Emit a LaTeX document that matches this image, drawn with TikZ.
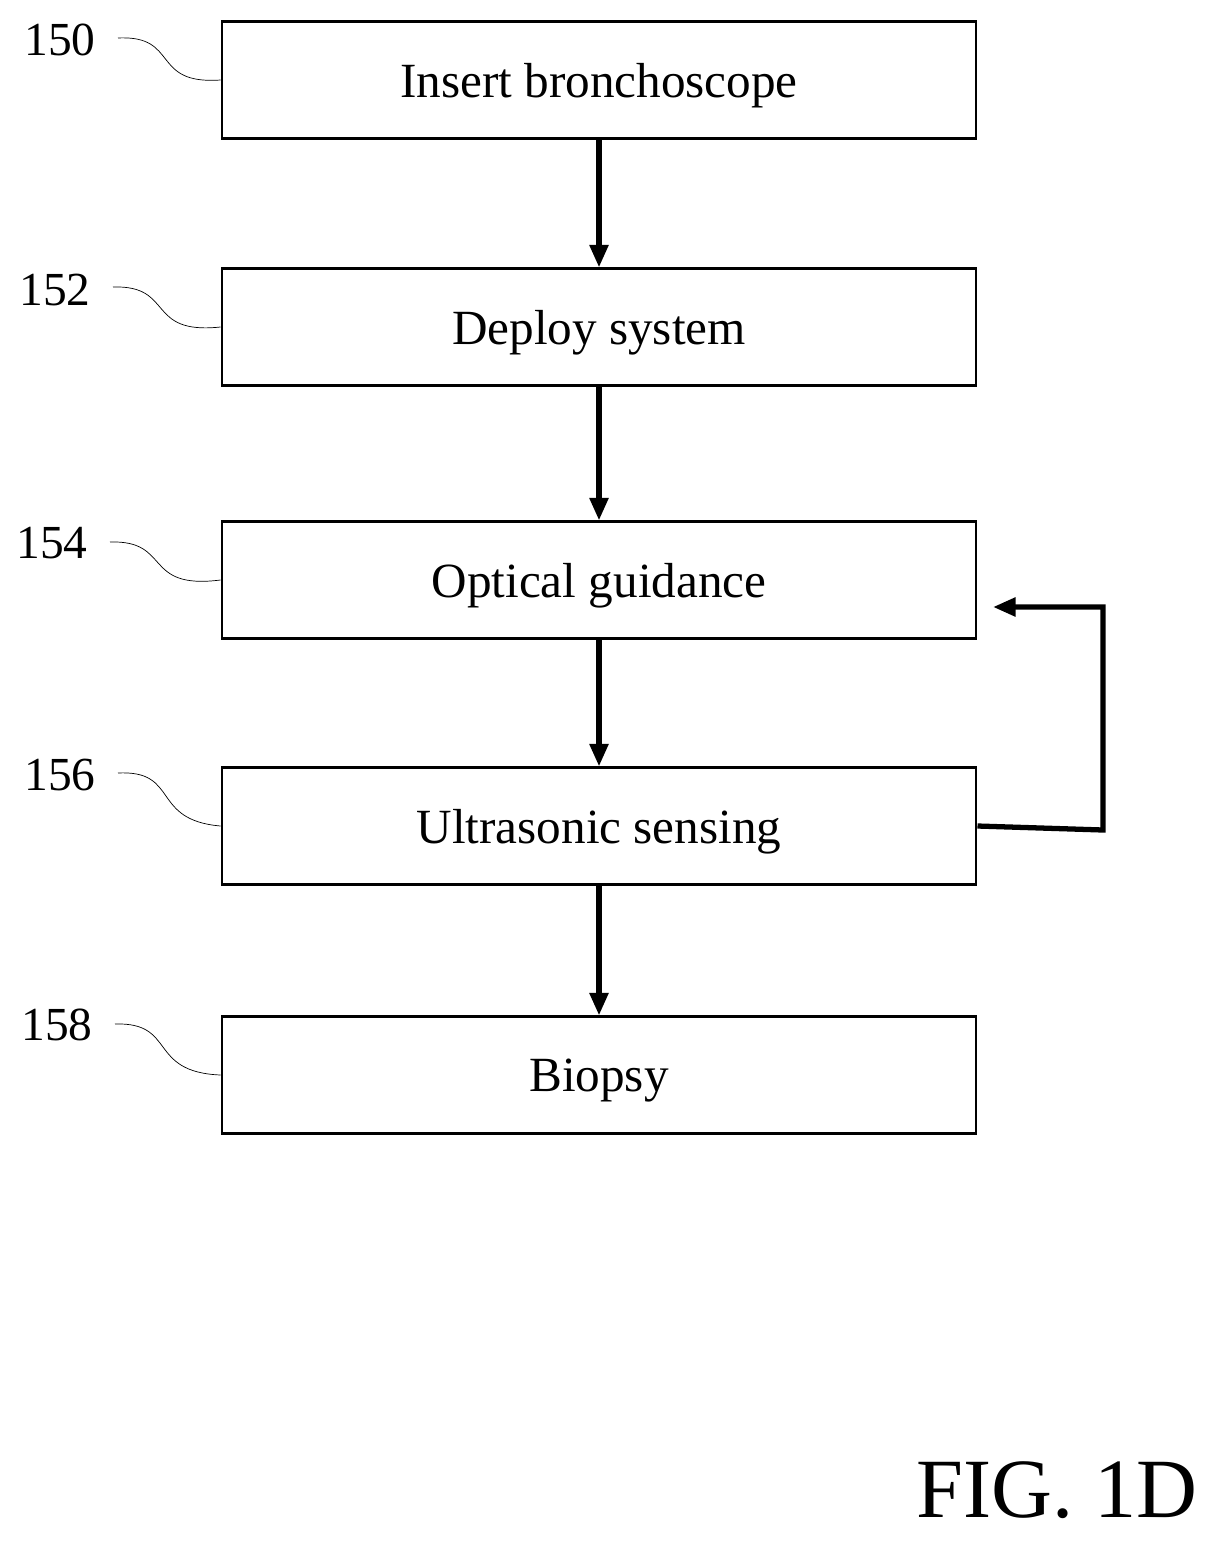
\documentclass[tikz,border=0pt]{standalone}
\usepackage{fontspec}
\setmainfont{Liberation Serif}
\usetikzlibrary{arrows.meta}
\tikzset{
  stepbox/.style={draw, line width=1.2pt, minimum width=15.1cm, minimum height=2.34cm, font=\fontsize{28}{32}\selectfont, text depth=0pt, yshift=0.1cm},
  flow/.style={-{Triangle[length=0.45cm,width=0.36cm]}, line width=3pt},
  refnum/.style={font=\fontsize{27}{30}\selectfont},
  lead/.style={thin}
}
\begin{document}
\begin{tikzpicture}[x=0.02cm, y=-0.02cm]
\useasboundingbox (0,0) rectangle (1215,1541);

\node[stepbox] (insert) at (599,85) {Insert bronchoscope};
\node[stepbox] (deploy) at (599,332) {Deploy system};
\node[stepbox] (optical) at (599,585) {Optical guidance};
\node[stepbox] (ultra) at (599,831) {Ultrasonic sensing};
\node[stepbox] (biopsy) at (599,1080) {Biopsy};

\draw[flow] (insert.south) -- (deploy.north);
\draw[flow] (deploy.south) -- (optical.north);
\draw[flow] (optical.south) -- (ultra.north);
\draw[flow] (ultra.south) -- (biopsy.north);
\coordinate (back) at (993,607);
\draw[flow] (ultra.east) -- (1103,830) -- (1103,607) -- (back);

% reference numerals
\node[refnum] (n150) at (60,40) {150};
\node[refnum] (n152) at (55,290) {152};
\node[refnum] (n154) at (52,543) {154};
\node[refnum] (n156) at (60,775) {156};
\node[refnum] (n158) at (57,1025) {158};
\draw[lead] (118,38) .. controls (180,35) and (150,85) .. (insert.west);
\draw[lead] (113,287) .. controls (175,285) and (145,335) .. (deploy.west);
\draw[lead] (110,542) .. controls (172,540) and (142,590) .. (optical.west);
\draw[lead] (118,773) .. controls (180,770) and (150,820) .. (ultra.west);
\draw[lead] (115,1024) .. controls (177,1022) and (147,1072) .. (biopsy.west);

\node[font=\fontsize{48}{56}\selectfont] (fig) at (1057,1490) {FIG. 1D};
\end{tikzpicture}
\end{document}
